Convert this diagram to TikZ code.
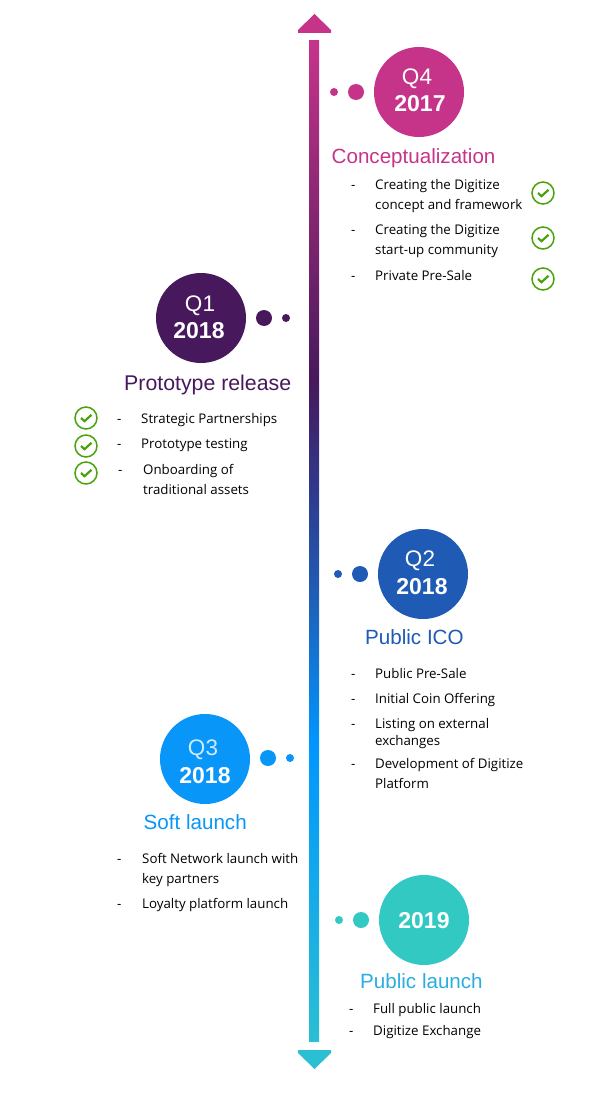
\documentclass[tikz,border=0pt]{standalone}
\usepackage{fontspec}
\setmainfont{Liberation Sans}
\newfontfamily\bodyfont{Open Sans}
\definecolor{cQfour}{HTML}{C6348A}
\definecolor{cQone}{HTML}{47195C}
\definecolor{cQtwo}{HTML}{1F5AB4}
\definecolor{cQthree}{HTML}{0896F8}
\definecolor{cNineteen}{HTML}{33C9C3}
\definecolor{cPublic}{HTML}{2AAEE0}
\definecolor{cCheck}{HTML}{4AA30C}
\definecolor{cTopArrow}{HTML}{C6348A}
\definecolor{cBotArrow}{HTML}{2ABFD2}
\definecolor{cBarA}{HTML}{2F3A8C}
\definecolor{cBarB}{HTML}{1F60B8}
\definecolor{cBarC}{HTML}{0096FF}
\pgfdeclareverticalshading{timeline}{100bp}{
 color(0bp)=(cBotArrow);
 color(25bp)=(cBotArrow);
 color(39.9bp)=(cBarC);
 color(47bp)=(cBarB);
 color(52.5bp)=(cBarA);
 color(58bp)=(cQone);
 color(75bp)=(cTopArrow);
 color(100bp)=(cTopArrow)}
\tikzset{
 x=1pt,y=-1pt,
 bigcirc/.style={circle,draw=none,minimum size=90pt,inner sep=0pt,text=white,align=center},
 midDot/.style={circle,draw=none,minimum size=16pt,inner sep=0pt},
 smallDot/.style={circle,draw=none,minimum size=8pt,inner sep=0pt},
 quarter/.style={font=\fontsize{22.5}{22.5}\selectfont,text=white,inner sep=0pt,anchor=base},
 yeartxt/.style={font=\fontsize{23}{23}\selectfont\bfseries,text=white,inner sep=0pt,anchor=base},
 heading/.style={font=\fontsize{20.6}{20.6}\selectfont,inner sep=0pt,anchor=base west},
 item/.style={font=\bodyfont\fontsize{13.3}{13.3}\selectfont,text=black,inner sep=0pt,anchor=base west},
 okring/.style={circle,draw=cCheck,line width=1.5pt,minimum size=22pt,inner sep=0pt},
 okmark/.style={draw=cCheck,line width=2.2pt}
}
\newcommand{\okicon}[3]{%
 \node[okring] (#1) at (#2,#3) {};
 \draw[okmark] ([shift={(-5,0)}]#1.center) -- ([shift={(-1.5,3.2)}]#1.center) -- ([shift={(5.5,-3.2)}]#1.center);
}
\begin{document}
\begin{tikzpicture}
\useasboundingbox[fill=white] (0,0) rectangle (613,1105);
% timeline
\node[inner sep=0pt,minimum width=10pt,minimum height=1000pt,shading=timeline,draw=none] (bar) at (314,541) {};
\fill[cTopArrow] (298,33) -- (298,30) -- (314.5,14) -- (331,30) -- (331,33) -- cycle;
\fill[cBotArrow] (298,1050) -- (298,1053) -- (314.5,1069) -- (331,1053) -- (331,1050) -- cycle;
% Q4 2017
\node[bigcirc,fill=cQfour] (q4) at (419,92) {};
\node[midDot,fill=cQfour] (q4m) at (356,92) {};
\node[smallDot,fill=cQfour] (q4s) at (334,92) {};
\node[quarter] (q4a) at (417,85) {Q4};
\node[yeartxt] (q4b) at (420,112) {2017};
\node[heading,text=cQfour] (q4h) at (331.5,164) {Conceptualization};
\node[item] (a0) at (351,189) {-};
\node[item] (a1) at (375,189) {Creating the Digitize};
\node[item] (a2) at (375,209) {concept and framework};
\node[item] (b0) at (351,234) {-};
\node[item] (b1) at (375,234) {Creating the Digitize};
\node[item] (b2) at (375,254) {start-up community};
\node[item] (c0) at (351,280) {-};
\node[item] (c1) at (375,280) {Private Pre-Sale};
\okicon{ok1}{543}{193}
\okicon{ok2}{543}{238}
\okicon{ok3}{543}{279}
% Q1 2018
\node[bigcirc,fill=cQone] (q1) at (201,318) {};
\node[midDot,fill=cQone] (q1m) at (264,318) {};
\node[smallDot,fill=cQone] (q1s) at (286,318) {};
\node[quarter] (q1a) at (200,311) {Q1};
\node[yeartxt] (q1b) at (199,338) {2018};
\node[heading,text=cQone,font=\fontsize{21.3}{21.3}\selectfont] (q1h) at (124,390) {Prototype release};
\node[item] (d0) at (117,423) {-};
\node[item] (d1) at (141,423) {Strategic Partnerships};
\node[item] (e0) at (117,448) {-};
\node[item] (e1) at (141,448) {Prototype testing};
\node[item] (f0) at (118,474) {-};
\node[item] (f1) at (143,474) {Onboarding of};
\node[item] (f2) at (143,494) {traditional assets};
\okicon{ok4}{86}{418}
\okicon{ok5}{86}{446}
\okicon{ok6}{86}{473}
% Q2 2018
\node[bigcirc,fill=cQtwo] (q2) at (423,574) {};
\node[midDot,fill=cQtwo] (q2m) at (360,574) {};
\node[smallDot,fill=cQtwo] (q2s) at (338,574) {};
\node[quarter] (q2a) at (420,566) {Q2};
\node[yeartxt] (q2b) at (422,594) {2018};
\node[heading,text=cQtwo] (q2h) at (365,644) {Public ICO};
\node[item] (g0) at (351,678) {-};
\node[item] (g1) at (375,678) {Public Pre-Sale};
\node[item] (h0) at (351,703) {-};
\node[item] (h1) at (375,703) {Initial Coin Offering};
\node[item] (i0) at (351,728) {-};
\node[item] (i1) at (375,728) {Listing on external};
\node[item] (i2) at (375,745) {exchanges};
\node[item] (j0) at (351,768) {-};
\node[item] (j1) at (375,768) {Development of Digitize};
\node[item] (j2) at (375,788) {Platform};
% Q3 2018
\node[bigcirc,fill=cQthree] (q3) at (205,759) {};
\node[midDot,fill=cQthree] (q3m) at (268,758) {};
\node[smallDot,fill=cQthree] (q3s) at (290,758) {};
\node[quarter,text=white!80!cQthree] (q3a) at (203,755) {Q3};
\node[yeartxt] (q3b) at (205,783) {2018};
\node[heading,text=cQthree] (q3h) at (143.5,829) {Soft launch};
\node[item] (k0) at (117,863) {-};
\node[item] (k1) at (142,863) {Soft Network launch with};
\node[item] (k2) at (142,883) {key partners};
\node[item] (l0) at (117,908) {-};
\node[item] (l1) at (142,908) {Loyalty platform launch};
% 2019
\node[bigcirc,fill=cNineteen] (y19) at (424,920) {};
\node[midDot,fill=cNineteen] (y19m) at (361,920) {};
\node[smallDot,fill=cNineteen] (y19s) at (339,920) {};
\node[yeartxt] (y19b) at (424,928) {2019};
\node[heading,text=cPublic] (y19h) at (360,988) {Public launch};
\node[item] (m0) at (349,1013) {-};
\node[item] (m1) at (373,1013) {Full public launch};
\node[item] (n0) at (349,1035) {-};
\node[item] (n1) at (373,1035) {Digitize Exchange};
\end{tikzpicture}
\end{document}
